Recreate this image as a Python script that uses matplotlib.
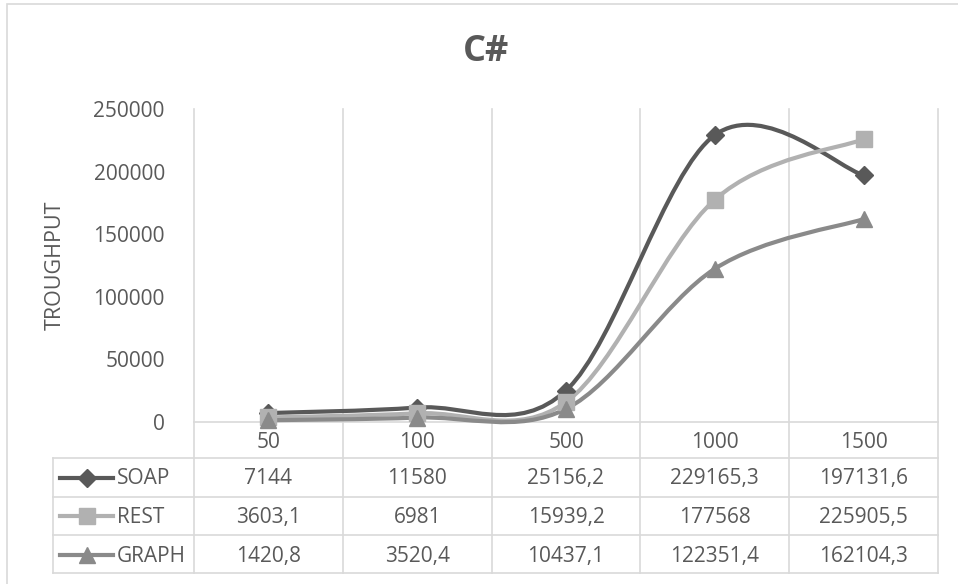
import matplotlib
matplotlib.use("Agg")
import matplotlib.pyplot as plt
from matplotlib.path import Path
from matplotlib.patches import PathPatch, Rectangle
from matplotlib.lines import Line2D

# ---- data ----
categories = ["50", "100", "500", "1000", "1500"]
series_names = ["SOAP", "REST", "GRAPH"]
soap = [7144, 11580, 25156.2, 229165.3, 197131.6]
rest = [3603.1, 6981, 15939.2, 177568, 225905.5]
graph = [1420.8, 3520.4, 10437.1, 122351.4, 162104.3]
y_ticks = [0, 50000, 100000, 150000, 200000, 250000]
title = "C#"
y_label = "TROUGHPUT"

series = [soap, rest, graph]
colors = ["#595959", "#b1b1b1", "#8a8a8a"]
markers = ["D", "s", "^"]
msizes = [8.8, 12, 12]
TXT = "#595959"
GRID = "#d9d9d9"
FONT = "Open Sans"

W, H = 958, 584
fig = plt.figure(figsize=(W / 100, H / 100), dpi=100)
fig.patch.set_facecolor("white")

def fx(px):
    return px / W

def fy(py):
    return 1 - py / H

L, R, T, B = 194, 938, 109, 422
colw = (R - L) / len(categories)

ax = fig.add_axes([fx(L), fy(B), (R - L) / W, (B - T) / H])
ax.set_xlim(-0.5, len(categories) - 0.5)
ax.set_ylim(y_ticks[0], y_ticks[-1])
ax.set_xticks([])
ax.set_yticks(y_ticks)
ax.set_yticklabels([str(t) for t in y_ticks], fontsize=15, color=TXT, family=FONT)
ax.tick_params(axis="y", length=0, pad=21)
for s in ax.spines.values():
    s.set_visible(False)
ax.patch.set_alpha(0)


def smooth_path(xs, ys):
    """Catmull-Rom style bezier (Excel-like smoothing)."""
    n = len(xs)
    pts = list(zip(xs, ys))
    verts = [pts[0]]
    codes = [Path.MOVETO]
    for i in range(n - 1):
        p0 = pts[i - 1] if i > 0 else pts[i]
        p1 = pts[i]
        p2 = pts[i + 1]
        p3 = pts[i + 2] if i + 2 < n else pts[i + 1]
        c1 = (p1[0] + (p2[0] - p0[0]) / 6, p1[1] + (p2[1] - p0[1]) / 6)
        c2 = (p2[0] - (p3[0] - p1[0]) / 6, p2[1] - (p3[1] - p1[1]) / 6)
        verts += [c1, c2, p2]
        codes += [Path.CURVE4] * 3
    return Path(verts, codes)


xs = list(range(len(categories)))
for vals, c, m, ms in zip(series, colors, markers, msizes):
    patch = PathPatch(smooth_path(xs, vals), facecolor="none", edgecolor=c,
                      lw=3.0, capstyle="round", joinstyle="round",
                      transform=ax.transData, clip_on=False)
    ax.add_patch(patch)
    ax.plot(xs, vals, linestyle="none", marker=m, markersize=ms,
            color=c, markeredgecolor=c, clip_on=False)

# ---- table / grid lines ----
lw_grid = 1.2
def hline(y, x0, x1):
    fig.add_artist(Line2D([fx(x0), fx(x1)], [fy(y), fy(y)], color=GRID, lw=lw_grid,
                          transform=fig.transFigure, zorder=0))

def vline(x, y0, y1):
    fig.add_artist(Line2D([fx(x), fx(x)], [fy(y0), fy(y1)], color=GRID, lw=lw_grid,
                          transform=fig.transFigure, zorder=0))

row_lines = [458, 497, 535, 573]
LEG = 53
for i in range(len(categories) + 1):
    vline(L + i * colw, T, row_lines[-1])
vline(LEG, row_lines[0], row_lines[-1])
hline(B, L, R)
for y in row_lines:
    hline(y, LEG, R)

def fmt(v):
    s = ("%.1f" % v).rstrip("0").rstrip(".")
    return s.replace(".", ",")

# category labels
for i, cat in enumerate(categories):
    fig.text(fx(L + (i + 0.5) * colw), fy(448), cat, ha="center", va="baseline",
             fontsize=15, color=TXT, family=FONT)

baselines = [484, 523, 562]
centers = [477.5, 516, 554.5]
for r, (name, vals, c, m, ms) in enumerate(zip(series_names, series, colors, markers, msizes)):
    yb = baselines[r]
    yc = centers[r]
    fig.add_artist(Line2D([fx(60), fx(86.5), fx(113)], [fy(yc)] * 3, color=c, lw=3.0,
                          marker=m, markersize=ms, markevery=[1], markeredgecolor=c,
                          transform=fig.transFigure))
    fig.text(fx(117), fy(yb), name, ha="left", va="baseline", fontsize=15,
             color=TXT, family=FONT)
    for i, v in enumerate(vals):
        fig.text(fx(L + (i + 0.5) * colw), fy(yb), fmt(v), ha="center", va="baseline",
                 fontsize=15, color=TXT, family=FONT)

# title & axis label
fig.text(fx(486), fy(52), title, ha="center", va="center", fontsize=26,
         fontweight="bold", color=TXT, family=FONT)
fig.text(fx(55), fy(265), y_label, ha="center", va="center", rotation=90,
         fontsize=15.5, color=TXT, family=FONT)

# outer chart border
fig.add_artist(Rectangle((fx(7), fy(595)), (960 - 7) / W, (595 - 4) / H, fill=False,
                         edgecolor=GRID, lw=1.2, transform=fig.transFigure))

fig.savefig("out.png", dpi=100, facecolor="white")
